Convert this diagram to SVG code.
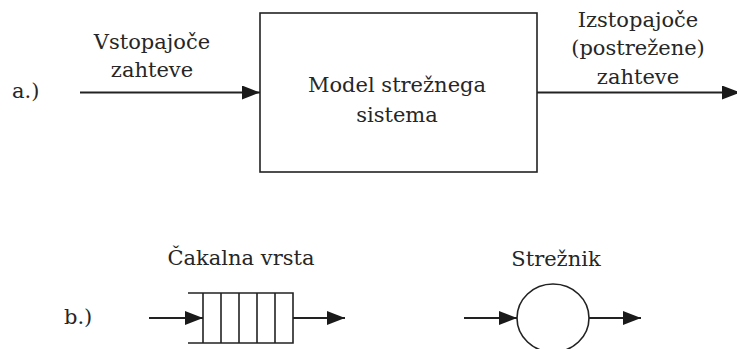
<svg xmlns="http://www.w3.org/2000/svg" width="737" height="349" viewBox="0 0 737 349">
  <style>
    text { font-family: "DejaVu Serif", "Liberation Serif", serif; font-size: 21px; fill: #262626; }
    .mid { text-anchor: middle; }
    .shape { fill: none; stroke: #222; stroke-width: 1.6; }
    .edge { fill: none; stroke: #222; stroke-width: 1.8; }
  </style>
  <defs>
    <marker id="arrow" markerUnits="userSpaceOnUse" markerWidth="19" markerHeight="15" refX="18" refY="7" orient="auto">
      <path d="M0,0 L18,7 L0,14 Z" fill="#1a1a1a"/>
    </marker>
  </defs>

  <!-- part a: the system as a black box -->
  <text x="12" y="98">a.)</text>

  <g id="system-model">
    <rect class="shape" x="260" y="13" width="277" height="159"/>
    <text class="mid" x="397" y="92">Model strežnega</text>
    <text class="mid" x="397" y="122">sistema</text>
  </g>

  <g id="input-label">
    <text class="mid" x="152" y="49">Vstopajoče</text>
    <text class="mid" x="152" y="77">zahteve</text>
  </g>

  <g id="output-label">
    <text class="mid" x="638" y="27">Izstopajoče</text>
    <text class="mid" x="638" y="55">(postrežene)</text>
    <text class="mid" x="638" y="84">zahteve</text>
  </g>

  <!-- part b: queue and server symbols -->
  <text x="64" y="324">b.)</text>

  <g id="queue">
    <text class="mid" x="241" y="265">Čakalna vrsta</text>
    <path class="shape" d="M188,293 H293 V343 H188 M203,293 V343 M221,293 V343 M239,293 V343 M257,293 V343 M275,293 V343"/>
  </g>

  <g id="server">
    <text class="mid" x="556" y="266">Strežnik</text>
    <ellipse class="shape" cx="553" cy="318" rx="36" ry="34"/>
  </g>

  <g id="connectors">
    <line class="edge" x1="80" y1="92.5" x2="260" y2="92.5" marker-end="url(#arrow)"/>
    <line class="edge" x1="537" y1="92.5" x2="740" y2="92.5" marker-end="url(#arrow)"/>
    <line class="edge" x1="149" y1="318" x2="203" y2="318" marker-end="url(#arrow)"/>
    <line class="edge" x1="293" y1="318" x2="345" y2="318" marker-end="url(#arrow)"/>
    <line class="edge" x1="464" y1="318" x2="517" y2="318" marker-end="url(#arrow)"/>
    <line class="edge" x1="589" y1="318" x2="641" y2="318" marker-end="url(#arrow)"/>
  </g>
</svg>
